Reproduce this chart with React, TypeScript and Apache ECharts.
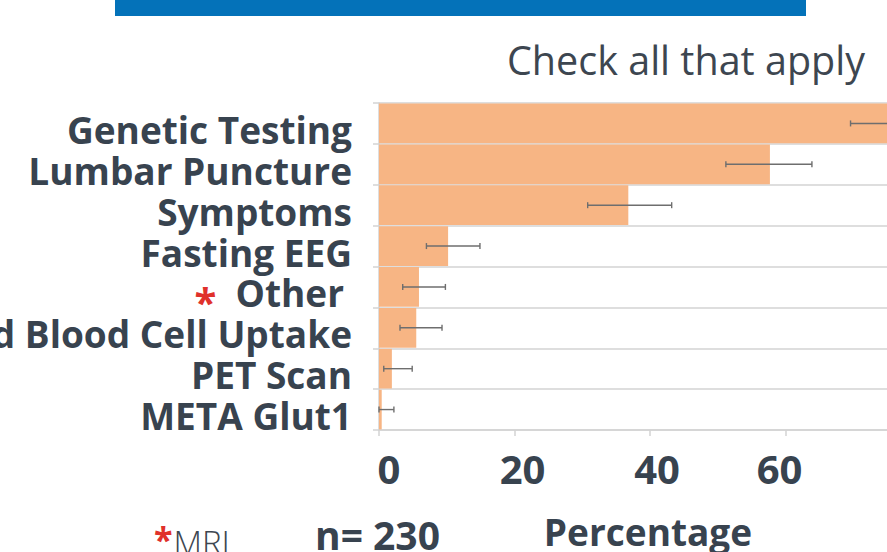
import React, { useEffect, useRef } from "react";
import * as echarts from "echarts";

const categories = [
  "Genetic Testing",
  "Lumbar Puncture",
  "Symptoms",
  "Fasting EEG",
  "Other",
  "Red Blood Cell Uptake",
  "PET Scan",
  "META Glut1",
];
const percentages = [75.5, 57.7, 36.8, 10.2, 5.9, 5.5, 1.9, 0.4];
const errorLow = [69.6, 51.2, 30.8, 7.0, 3.5, 3.1, 0.7, 0.0];
const errorHigh = [81.4, 63.9, 43.2, 14.9, 9.8, 9.3, 4.9, 2.2];
const starredCategory = "Other";
const xMin = 0;
const xMax = 80;
const xInterval = 20;
const subtitle = "Check all that apply";
const sampleNote = "n= 230";
const axisTitle = "Percentage";
const footnote = "MRI";

const FONT = "'Open Sans', 'Noto Sans', sans-serif";
const DARK = "#38434f";
const RED = "#e0312b";
const GRID = "#d3d3d3";

const labelShift: Record<string, number> = { "0": 10, "20": 8, "40": 7, "60": -6 };

export default function App() {
  const ref = useRef<HTMLDivElement>(null);

  useEffect(() => {
    if (!ref.current) return;
    const chart = echarts.init(ref.current, null, { renderer: "svg" });

    const xRich: Record<string, any> = {};
    Object.keys(labelShift).forEach((k) => {
      const s = labelShift[k];
      xRich["v" + k] = {
        fontFamily: FONT,
        fontWeight: "bold",
        fontSize: 40,
        lineHeight: 40,
        color: DARK,
        padding: s >= 0 ? [0, 0, 0, 2 * s] : [0, -2 * s, 0, 0],
      };
    });

    const errData = categories.map((c, i) => [errorLow[i], errorHigh[i], i]);

    chart.setOption({
      animation: false,
      backgroundColor: "#ffffff",
      grid: {
        left: 379,
        top: 103,
        width: 542,
        height: 327,
        containLabel: false,
        outerBoundsMode: "none",
      },
      xAxis: {
        type: "value",
        min: xMin,
        max: xMax,
        interval: xInterval,
        axisLine: { show: true, lineStyle: { color: GRID, width: 1.5 } },
        axisTick: { show: true, length: 6, lineStyle: { color: GRID, width: 1.5 } },
        splitLine: { show: false },
        axisLabel: {
          margin: 18,
          hideOverlap: false,
          formatter: (v: number) =>
            labelShift[String(v)] !== undefined ? `{v${v}|${v}}` : String(v),
          rich: xRich,
          fontFamily: FONT,
          fontWeight: "bold",
          fontSize: 40,
          lineHeight: 40,
          color: DARK,
        },
      },
      yAxis: {
        type: "category",
        data: categories,
        inverse: true,
        axisLine: { show: true, lineStyle: { color: GRID, width: 1.5 } },
        axisTick: { show: true, length: 6, interval: 0, lineStyle: { color: GRID, width: 1.5 } },
        splitLine: { show: true, interval: 0, lineStyle: { color: GRID, width: 1.5 } },
        axisLabel: {
          interval: 0,
          hideOverlap: false,
          margin: 27,
          fontFamily: FONT,
          fontWeight: "bold",
          fontSize: 37,
          lineHeight: 30,
          color: DARK,
          padding: [12, 0, 0, 0],
          formatter: (v: string) =>
            v === starredCategory ? `{s|*}  {o|${v}}` : v,
          rich: {
            s: {
              fontFamily: FONT,
              fontWeight: "bold",
              fontSize: 40,
              color: RED,
              padding: [18, 0, 0, 0],
            },
            o: {
              fontFamily: FONT,
              fontWeight: "bold",
              fontSize: 37,
              color: DARK,
              padding: [0, 8, 0, 0],
            },
          },
        },
      },
      series: [
        {
          type: "bar",
          data: percentages,
          barCategoryGap: "3%",
          itemStyle: { color: "#f7b584" },
          z: 2,
        },
        {
          type: "custom",
          data: errData,
          encode: { x: [0, 1], y: 2 },
          z: 3,
          renderItem: (params: any, api: any) => {
            const idx = api.value(2);
            const lo = api.coord([api.value(0), idx]);
            const hi = api.coord([api.value(1), idx]);
            const cap = 3;
            const style = { stroke: "#6e6e6e", lineWidth: 1.4 };
            return {
              type: "group",
              children: [
                { type: "line", shape: { x1: lo[0], y1: lo[1], x2: hi[0], y2: hi[1] }, style },
                { type: "line", shape: { x1: lo[0], y1: lo[1] - cap, x2: lo[0], y2: lo[1] + cap }, style },
                { type: "line", shape: { x1: hi[0], y1: hi[1] - cap, x2: hi[0], y2: hi[1] + cap }, style },
              ],
            };
          },
        },
      ],
      graphic: [
        {
          type: "rect",
          left: 115,
          top: 0,
          shape: { width: 691, height: 16 },
          style: { fill: "#0472b9" },
        },
        {
          type: "text",
          x: 865,
          y: 60,
          style: {
            text: subtitle,
            align: "right",
            verticalAlign: "middle",
            fontFamily: FONT,
            fontSize: 39.5,
            fontWeight: "normal",
            fill: "#3d4650",
          },
        },
        {
          type: "text",
          x: 315,
          y: 534,
          style: {
            text: sampleNote,
            align: "left",
            verticalAlign: "middle",
            fontFamily: FONT,
            fontSize: 39,
            fontWeight: "bold",
            fill: DARK,
          },
        },
        {
          type: "text",
          x: 648,
          y: 531,
          style: {
            text: axisTitle,
            align: "center",
            verticalAlign: "middle",
            fontFamily: FONT,
            fontSize: 37,
            fontWeight: "bold",
            fill: DARK,
          },
        },
        {
          type: "text",
          x: 154,
          y: 542,
          style: {
            text: `{s|*}{m|${footnote}}`,
            align: "left",
            verticalAlign: "middle",
            rich: {
              s: { fontFamily: FONT, fontSize: 34, fontWeight: "bold", fill: RED, padding: [0, 1, 6, 0] },
              m: { fontFamily: FONT, fontSize: 33, fontWeight: 300, fill: "#3d4650" },
            },
          },
        },
      ],
    });

    return () => chart.dispose();
  }, []);

  return (
    <div
      ref={ref}
      style={{ position: "fixed", left: 0, top: 0, width: 887, height: 552, background: "#fff" }}
    />
  );
}
